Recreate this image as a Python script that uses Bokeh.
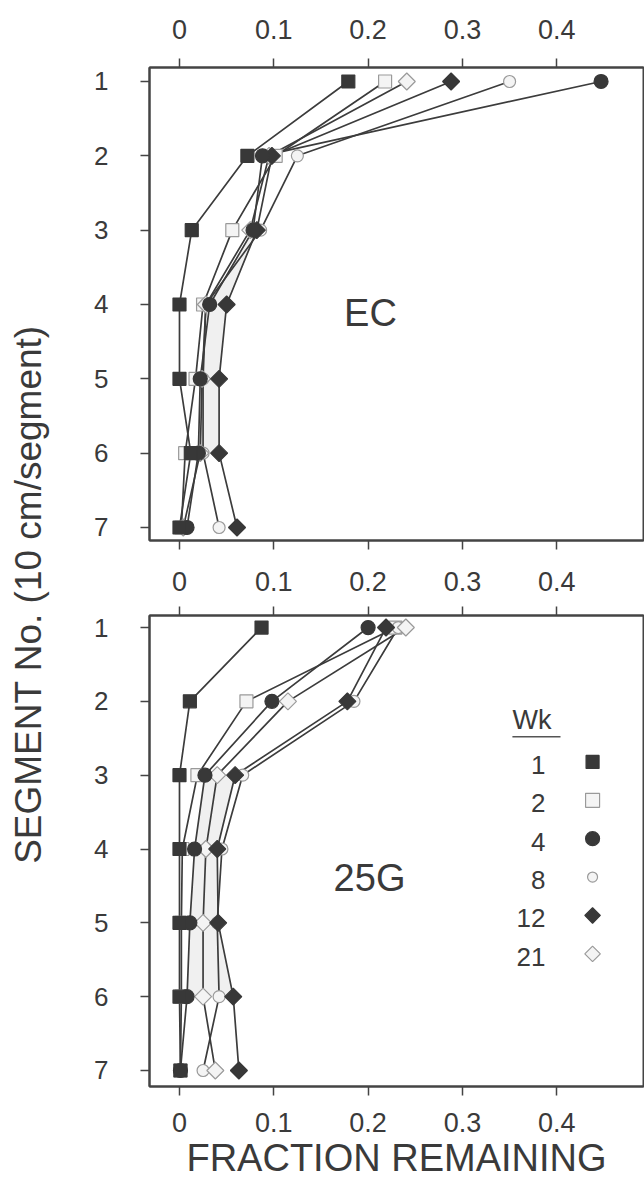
import math
from bokeh.plotting import figure
from bokeh.layouts import row, column
from bokeh.models import Range1d, FixedTicker, Label, LinearAxis
from bokeh.embed import file_html
from bokeh.resources import INLINE
from bokeh.core.properties import value

# ---------------- data ----------------
SEGMENTS = [1, 2, 3, 4, 5, 6, 7]
WEEKS = ["1", "2", "4", "8", "12", "21"]
X_TICKS = [0, 0.1, 0.2, 0.3, 0.4]
X_TICK_LABELS = ["0", "0.1", "0.2", "0.3", "0.4"]
Y_TICKS = [1, 2, 3, 4, 5, 6, 7]

EC_WK1 = [0.179, 0.072, 0.013, 0.000, 0.000, 0.012, 0.000]
EC_WK2 = [0.218, 0.102, 0.056, 0.025, 0.017, 0.006, 0.002]
EC_WK4 = [0.447, 0.088, 0.078, 0.032, 0.022, 0.020, 0.008]
EC_WK8 = [0.350, 0.125, 0.086, 0.028, 0.025, 0.025, 0.042]
EC_WK12 = [0.288, 0.098, 0.082, 0.050, 0.042, 0.042, 0.061]
EC_WK21 = [0.241, 0.095, 0.075, 0.028, 0.024, 0.022, 0.004]

G25_WK1 = [0.087, 0.011, 0.000, 0.000, 0.000, 0.000, 0.001]
G25_WK2 = [0.229, 0.071, 0.019, 0.003, 0.002, 0.002, 0.001]
G25_WK4 = [0.200, 0.098, 0.027, 0.016, 0.011, 0.008, 0.001]
G25_WK8 = [0.232, 0.185, 0.067, 0.045, 0.040, 0.042, 0.025]
G25_WK12 = [0.219, 0.178, 0.059, 0.040, 0.041, 0.057, 0.063]
G25_WK21 = [0.240, 0.115, 0.040, 0.028, 0.025, 0.025, 0.038]

EC_SERIES = [EC_WK1, EC_WK2, EC_WK4, EC_WK8, EC_WK12, EC_WK21]
G25_SERIES = [G25_WK1, G25_WK2, G25_WK4, G25_WK8, G25_WK12, G25_WK21]

# ---------------- styles ----------------
DARK = "#383838"
OPEN_LINE = "#9a9a9a"
OPEN_FILL = "#f4f4f4"
TEXT = "#3a3a3a"
FONT = "Liberation Sans"
Q = math.pi / 4
STYLES = [
    dict(marker="square", size=13, fill_color=DARK, line_color=DARK, angle=0),
    dict(marker="square", size=13, fill_color=OPEN_FILL, line_color=OPEN_LINE, angle=0),
    dict(marker="circle", size=14, fill_color=DARK, line_color=DARK, angle=0),
    dict(marker="circle", size=12, fill_color=OPEN_FILL, line_color=OPEN_LINE, angle=0),
    dict(marker="square", size=12, fill_color=DARK, line_color=DARK, angle=Q),
    dict(marker="square", size=12, fill_color=OPEN_FILL, line_color=OPEN_LINE, angle=Q),
]
LEG_STYLES = [
    dict(marker="square", size=13, fill_color=DARK, line_color=DARK, angle=0),
    dict(marker="square", size=14, fill_color=OPEN_FILL, line_color=OPEN_LINE, angle=0),
    dict(marker="circle", size=14, fill_color=DARK, line_color=DARK, angle=0),
    dict(marker="circle", size=10, fill_color=OPEN_FILL, line_color=OPEN_LINE, angle=0),
    dict(marker="square", size=11, fill_color=DARK, line_color=DARK, angle=Q),
    dict(marker="square", size=11, fill_color=OPEN_FILL, line_color=OPEN_LINE, angle=Q),
]
# drawing order: open symbols first, filled symbols on top
DRAW_ORDER = [1, 3, 5, 4, 2, 0]

X_RANGE = (-0.0318, 0.492)
OVR = {t: l for t, l in zip(X_TICKS, X_TICK_LABELS)}


def style_axis(ax, ticks, font_size="27px", standoff=20, overrides=None):
    ax.ticker = FixedTicker(ticks=ticks)
    if overrides:
        ax.major_label_overrides = overrides
    ax.axis_line_color = "#444444"
    ax.axis_line_width = 2
    ax.major_tick_line_color = "#444444"
    ax.major_tick_line_width = 1.5
    ax.major_tick_in = 0
    ax.major_tick_out = 9
    ax.minor_tick_line_color = None
    ax.major_label_text_font = FONT
    ax.major_label_text_font_size = font_size
    ax.major_label_text_color = TEXT
    ax.major_label_standoff = standoff


def make_panel(y_range, height, border_top, border_bottom):
    p = figure(width=588, height=height,
               x_range=Range1d(*X_RANGE), y_range=Range1d(*y_range),
               x_axis_location="above", y_axis_location="left",
               min_border_left=93, min_border_right=1,
               min_border_top=border_top, min_border_bottom=border_bottom,
               toolbar_location=None, output_backend="svg")
    p.grid.visible = False
    p.outline_line_color = "#444444"
    p.outline_line_width = 2
    p.background_fill_color = "white"
    p.border_fill_color = "white"
    return p


# ---------------- top panel (EC) ----------------
p1 = make_panel((7.175, 0.812), 560, 67, 20)
style_axis(p1.xaxis[0], X_TICKS, standoff=20, overrides=OVR)
style_axis(p1.yaxis[0], Y_TICKS, font_size="26px", standoff=32)
ax_b1 = LinearAxis()
style_axis(ax_b1, X_TICKS, font_size="1px", standoff=2)
ax_b1.major_label_text_alpha = 0
ax_b1.major_label_overrides = {t: "" for t in X_TICKS}
p1.add_layout(ax_b1, "below")

# ---------------- bottom panel (25G) ----------------
p2 = make_panel((7.217, 0.837), 637, 55, 111)
style_axis(p2.xaxis[0], X_TICKS, standoff=16, overrides=OVR)
style_axis(p2.yaxis[0], Y_TICKS, font_size="26px", standoff=32)
ax_b2 = LinearAxis(axis_label="FRACTION REMAINING")
style_axis(ax_b2, X_TICKS, standoff=17, overrides=OVR)
ax_b2.axis_label_text_font = FONT
ax_b2.axis_label_text_font_size = "38px"
ax_b2.axis_label_text_font_style = "normal"
ax_b2.axis_label_text_color = TEXT
ax_b2.axis_label_standoff = 2
p2.add_layout(ax_b2, "below")

for p, series in ((p1, EC_SERIES), (p2, G25_SERIES)):
    # light shading between the week-4 and week-12 profiles
    p.harea(y=SEGMENTS[2:6], x1=series[2][2:6], x2=series[4][2:6],
            fill_color="#eeeeee", fill_alpha=0.9)
    for s in series:
        p.line(x=s, y=SEGMENTS, line_color="#3c3c3c", line_width=1.7)
    for i in DRAW_ORDER:
        s, st = series[i], STYLES[i]
        p.scatter(x=s, y=SEGMENTS, marker=st["marker"], size=st["size"],
                  angle=st["angle"], fill_color=st["fill_color"],
                  line_color=st["line_color"], line_width=1.2)

# panel labels
p1.text(x=[0.2025], y=[4.12], text=["EC"], text_align="center",
        text_baseline="middle", text_font=value(FONT),
        text_font_size="38px", text_color=TEXT)
p2.text(x=[0.2015], y=[4.39], text=["25G"], text_align="center",
        text_baseline="middle", text_font=value(FONT),
        text_font_size="38px", text_color=TEXT)

# legend (drawn in the 25G panel)
LEG_X_TEXT = 0.388
LEG_X_MARK = 0.438
LEG_Y0 = 2.82
LEG_DY = 0.52
leg_y = [LEG_Y0 + i * LEG_DY for i in range(len(WEEKS))]
p2.text(x=[LEG_X_TEXT] * len(WEEKS), y=[y + 0.04 for y in leg_y], text=WEEKS,
        text_align="right", text_baseline="middle", text_font=value(FONT),
        text_font_size="26px", text_color=TEXT)
for yy, st in zip(leg_y, LEG_STYLES):
    p2.scatter(x=[LEG_X_MARK], y=[yy], marker=st["marker"], size=st["size"],
               angle=st["angle"], fill_color=st["fill_color"],
               line_color=st["line_color"], line_width=1.2)
p2.text(x=[0.353], y=[2.25], text=["Wk"], text_align="left",
        text_baseline="middle", text_font=value(FONT),
        text_font_size="27px", text_color=TEXT)
p2.segment(x0=[0.353], y0=[2.48], x1=[0.404], y1=[2.48],
           line_color="#555555", line_width=1.5)

# ---------------- shared y label ----------------
pl = figure(width=56, height=1197, x_range=Range1d(0, 56), y_range=Range1d(0, 1197),
            x_axis_location=None, y_axis_location=None,
            min_border=0, toolbar_location=None, output_backend="svg")
pl.grid.visible = False
pl.outline_line_color = None
pl.add_layout(Label(x=28, y=603, text="SEGMENT No. (10 cm/segment)",
                    angle=math.pi / 2, text_align="center", text_baseline="middle",
                    text_font=FONT, text_font_size="37px", text_color=TEXT))

layout = row(pl, column(p1, p2))
open("out.html", "w").write(file_html(layout, INLINE))
